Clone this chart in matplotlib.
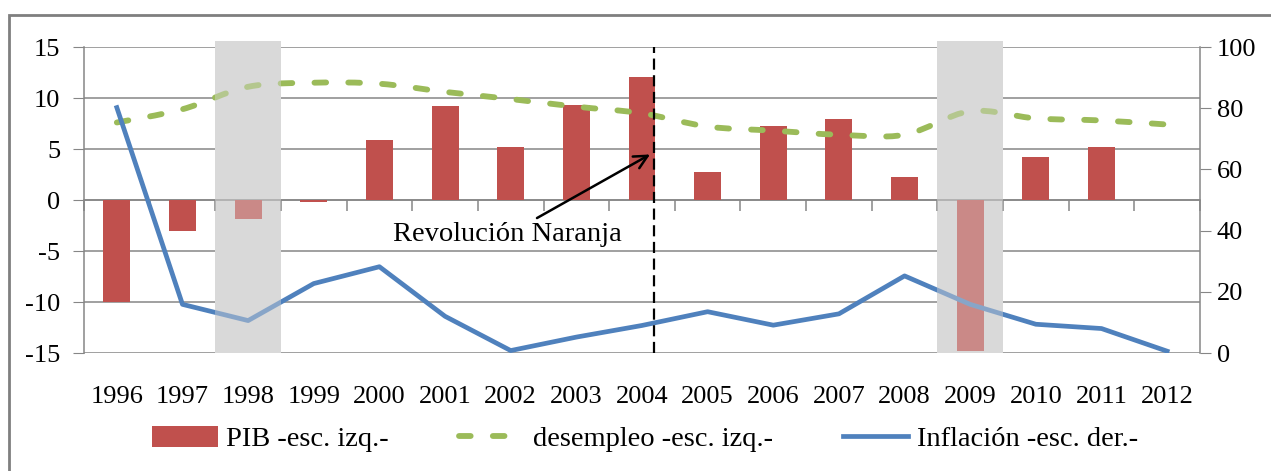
import numpy as np
import matplotlib.pyplot as plt
from matplotlib.path import Path
from matplotlib.patches import PathPatch, Rectangle, Patch
from matplotlib.lines import Line2D

plt.rcParams['font.family'] = ['Liberation Serif', 'DejaVu Serif']
plt.rcParams['axes.unicode_minus'] = False

# data
years = [str(y) for y in range(1996, 2013)]
pib = [-10.0, -3.0, -1.9, -0.2, 5.9, 9.2, 5.2, 9.3, 12.1, 2.7, 7.3, 7.9, 2.3, -14.8, 4.2, 5.2, 0.0]
desempleo = [7.6, 8.9, 11.1, 11.5, 11.4, 10.6, 9.9, 9.15, 8.5, 7.2, 6.8, 6.4, 6.4, 8.7, 8.0, 7.8, 7.4]
inflacion = [80.2, 15.9, 10.6, 22.7, 28.2, 12.0, 0.8, 5.2, 9.0, 13.5, 9.1, 12.8, 25.2, 15.9, 9.4, 8.0, 0.6]
crisis_years = ['1998', '2009']
revolucion_year = '2004'
labels = ['PIB -esc. izq.-', 'desempleo -esc. izq.-', 'Inflación -esc. der.-']

RED = '#c0504d'
GREEN = '#9bbb59'
BLUE = '#4f81bd'
GRID = '#868686'
BAND = '#d9d9d9'
FS = 19


def smooth_path(x, y):
    # Excel-style smoothed line: bezier segments through each point
    x = np.asarray(x, float)
    y = np.asarray(y, float)
    px = np.concatenate([[x[0]], x, [x[-1]]])
    py = np.concatenate([[y[0]], y, [y[-1]]])
    verts = [(x[0], y[0])]
    codes = [Path.MOVETO]
    for i in range(len(x) - 1):
        c1 = (x[i] + (px[i + 2] - px[i]) / 6, y[i] + (py[i + 2] - py[i]) / 6)
        c2 = (x[i + 1] - (px[i + 3] - px[i + 1]) / 6, y[i + 1] - (py[i + 3] - py[i + 1]) / 6)
        verts += [c1, c2, (x[i + 1], y[i + 1])]
        codes += [Path.CURVE4] * 3
    return Path(verts, codes)


x = np.arange(len(years))

fig = plt.figure(figsize=(12.71, 4.71), dpi=100)
ax = fig.add_axes([0.0661, 0.2505, 0.878, 0.6497])
ax2 = ax.twinx()

# crisis bands: opaque under the data (hides grid), translucent over it
for yr in crisis_years:
    i = years.index(yr)
    ax.axvspan(i - 0.5, i + 0.5, ymin=0, ymax=1.02, color=BAND, lw=0, zorder=1, clip_on=False)
    ax2.axvspan(i - 0.5, i + 0.5, ymin=0, ymax=1.02, color=BAND, alpha=0.42,
                lw=0, zorder=5, clip_on=False)

# left axis: bars + unemployment
ax.bar(x, pib, width=0.41, color=RED, zorder=2)
green_dash = (0, (2.0, 3.8))
ax.add_patch(PathPatch(smooth_path(x, desempleo), fill=False, edgecolor=GREEN, lw=4.2,
                       linestyle=green_dash, capstyle='round', zorder=3))

ax.set_xlim(-0.5, len(years) - 0.5)
ax.set_ylim(-15, 15)
ax.set_yticks(range(-15, 16, 5))
ax.grid(axis='y', color=GRID, lw=1.1, zorder=0)
ax.set_axisbelow(True)
ax.set_xticks(x)
ax.set_xticklabels(years)
ax.tick_params(axis='x', length=0, pad=24, labelsize=FS)
ax.tick_params(axis='y', length=8, color=GRID, labelsize=FS, pad=9)
for s in ['top', 'bottom', 'right']:
    ax.spines[s].set_visible(False)
ax.spines['left'].set_color(GRID)
ax.spines['left'].set_linewidth(1.1)

# category axis line and ticks on the zero line
sec = ax.secondary_xaxis(0.4999)
sec.set_zorder(1.5)
sec.set_xticks(np.arange(-0.5, len(years), 1.0))
sec.tick_params(length=8, color=GRID, width=1.1, labelbottom=False, labeltop=False)
for s in sec.spines.values():
    s.set_color(GRID)
    s.set_linewidth(1.1)

# right axis: inflation
ax2.plot(x, inflacion, color=BLUE, lw=3.4, zorder=3, solid_joinstyle='round')
ax2.set_ylim(0, 100)
ax2.set_yticks(range(0, 101, 20))
ax2.tick_params(axis='y', length=8, color=GRID, labelsize=FS, pad=4)
for s in ['top', 'bottom', 'left']:
    ax2.spines[s].set_visible(False)
ax2.spines['right'].set_color(GRID)
ax2.spines['right'].set_linewidth(1.1)

# Orange Revolution marker
rx = years.index(revolucion_year) + 0.19
ax2.axvline(rx, color='black', lw=1.6, linestyle=(0, (5, 2.5)), zorder=6)
ax.annotate('Revolución Naranja', xy=(rx - 0.03, 4.6), xytext=(5.95, -3.4),
            ha='center', va='center', fontsize=20.5,
            arrowprops=dict(arrowstyle='->', color='black', lw=1.8, mutation_scale=24))

# outer frame
fig.add_artist(Rectangle((9 / 1271, -0.1), 1.2, 0.1 + (1 - 15 / 471), transform=fig.transFigure,
                         fill=False, edgecolor='#7f7f7f', lw=2))

handles = [Patch(facecolor=RED),
           Line2D([], [], color=GREEN, lw=4.2, linestyle=green_dash, dash_capstyle='round'),
           Line2D([], [], color=BLUE, lw=3.4)]
fig.legend(handles, labels, loc='center', bbox_to_anchor=(0.5075, 0.068), ncol=3, frameon=False,
           fontsize=20.5, handlelength=2.3, handleheight=0.75, columnspacing=2.45, handletextpad=0.3)

fig.savefig('out.png', dpi=100)
